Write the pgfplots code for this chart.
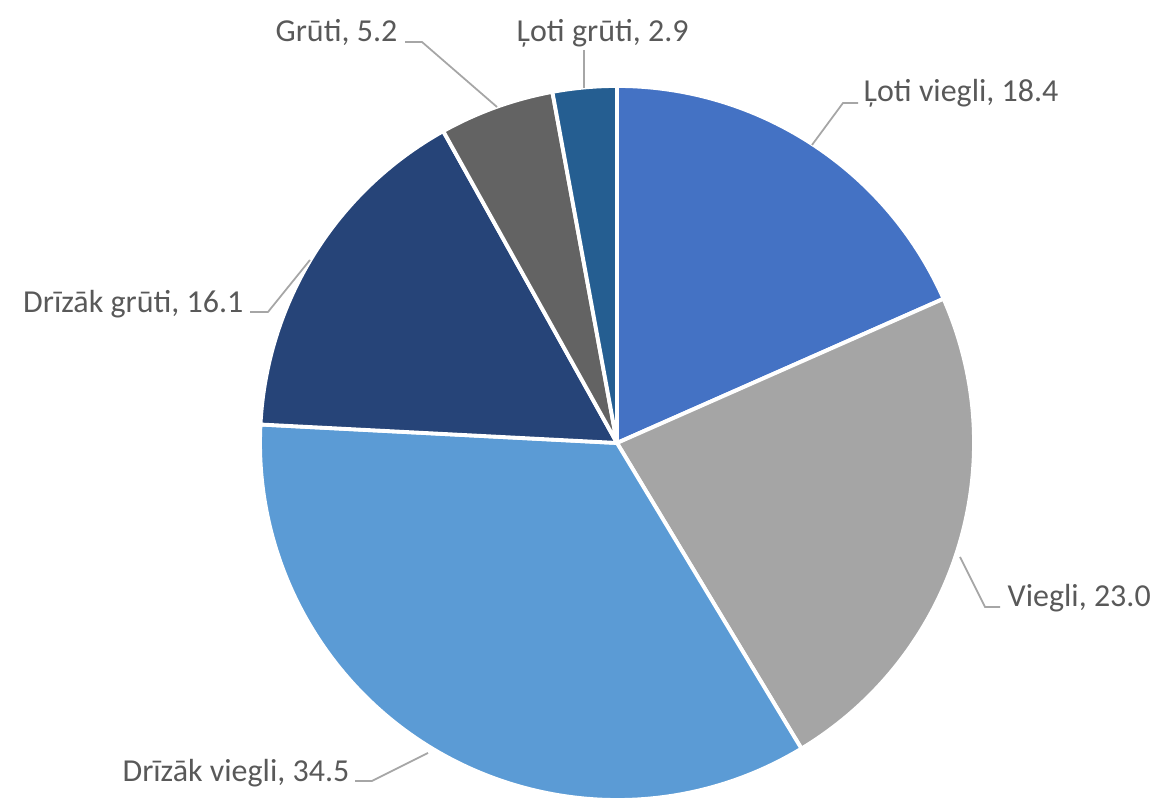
\documentclass[border=0pt]{standalone}
\usepackage{pgfplots}
\usepackage{pgfplotstable}
\pgfplotsset{compat=1.18}
\usepackage{fontspec}
\setmainfont{Carlito}

\definecolor{sl1}{HTML}{4472C4}
\definecolor{sl2}{HTML}{A5A5A5}
\definecolor{sl3}{HTML}{5B9BD5}
\definecolor{sl4}{HTML}{264478}
\definecolor{sl5}{HTML}{636363}
\definecolor{sl6}{HTML}{255E91}
\definecolor{lbl}{HTML}{595959}
\definecolor{lead}{HTML}{A6A6A6}

% shares, clockwise from 12 o'clock
\pgfplotstableread[col sep=comma]{
value,color
18.4,sl1
23.0,sl2
34.5,sl3
16.1,sl4
5.2,sl5
2.9,sl6
}\piedata

\begin{document}
\begin{tikzpicture}
\begin{axis}[
    name=pie,
    hide axis,
    scale only axis,
    width=11.65cm, height=8cm,
    xmin=0, xmax=1165,
    ymin=-800, ymax=0,
    clip=false,
]
\pgfplotstablegetrowsof{\piedata}
\pgfmathtruncatemacro\nrows{\pgfplotsretval-1}
\def\total{0}
\pgfplotsforeachungrouped \i in {0,...,\nrows}{%
  \pgfplotstablegetelem{\i}{value}\of\piedata
  \pgfmathsetmacro\total{\total+\pgfplotsretval}%
  \global\let\total\total
}
\def\angstart{90}
\pgfplotsforeachungrouped \i in {0,...,\nrows}{%
  \pgfplotstablegetelem{\i}{value}\of\piedata \let\val\pgfplotsretval
  \pgfplotstablegetelem{\i}{color}\of\piedata \let\col\pgfplotsretval
  \pgfmathsetmacro\angend{\angstart-\val*360/\total}%
  \edef\tmp{\noexpand\fill[fill=\col, draw=white, line width=1.1pt, line join=round]
    (axis cs:617,-443) -- ++(\angstart:3.57cm)
    arc[start angle=\angstart, end angle=\angend, radius=3.57cm] -- cycle;}%
  \tmp
  \global\let\angstart\angend
}

% leader lines
\draw[lead, line width=0.5pt] (axis cs:405,-42) -- (axis cs:422,-42) -- (axis cs:497,-107);
\draw[lead, line width=0.5pt] (axis cs:584,-50) -- (axis cs:584,-88);
\draw[lead, line width=0.5pt] (axis cs:858,-103) -- (axis cs:843,-103) -- (axis cs:812,-145);
\draw[lead, line width=0.5pt] (axis cs:250,-312) -- (axis cs:268,-312) -- (axis cs:310,-260);
\draw[lead, line width=0.5pt] (axis cs:1000,-607) -- (axis cs:985,-607) -- (axis cs:960,-557);
\draw[lead, line width=0.5pt] (axis cs:355,-781) -- (axis cs:372,-781) -- (axis cs:428,-753);

% data labels
\tikzset{lab/.style={text=lbl, inner sep=0pt, font=\fontsize{9.1}{11}\selectfont}}
\node[lab, anchor=base east] at (axis cs:398,-42) {Grūti, 5.2};
\node[lab, anchor=base west] at (axis cs:516,-42) {Ļoti grūti, 2.9};
\node[lab, anchor=base west] at (axis cs:863,-102) {Ļoti viegli, 18.4};
\node[lab, anchor=base east] at (axis cs:244,-313) {Drīzāk grūti, 16.1};
\node[lab, anchor=base west] at (axis cs:1007,-607) {Viegli, 23.0};
\node[lab, anchor=base east] at (axis cs:350,-782) {Drīzāk viegli, 34.5};
\end{axis}
\pgfresetboundingbox
\useasboundingbox (pie.south west) rectangle (pie.north east);
\end{tikzpicture}
\end{document}
